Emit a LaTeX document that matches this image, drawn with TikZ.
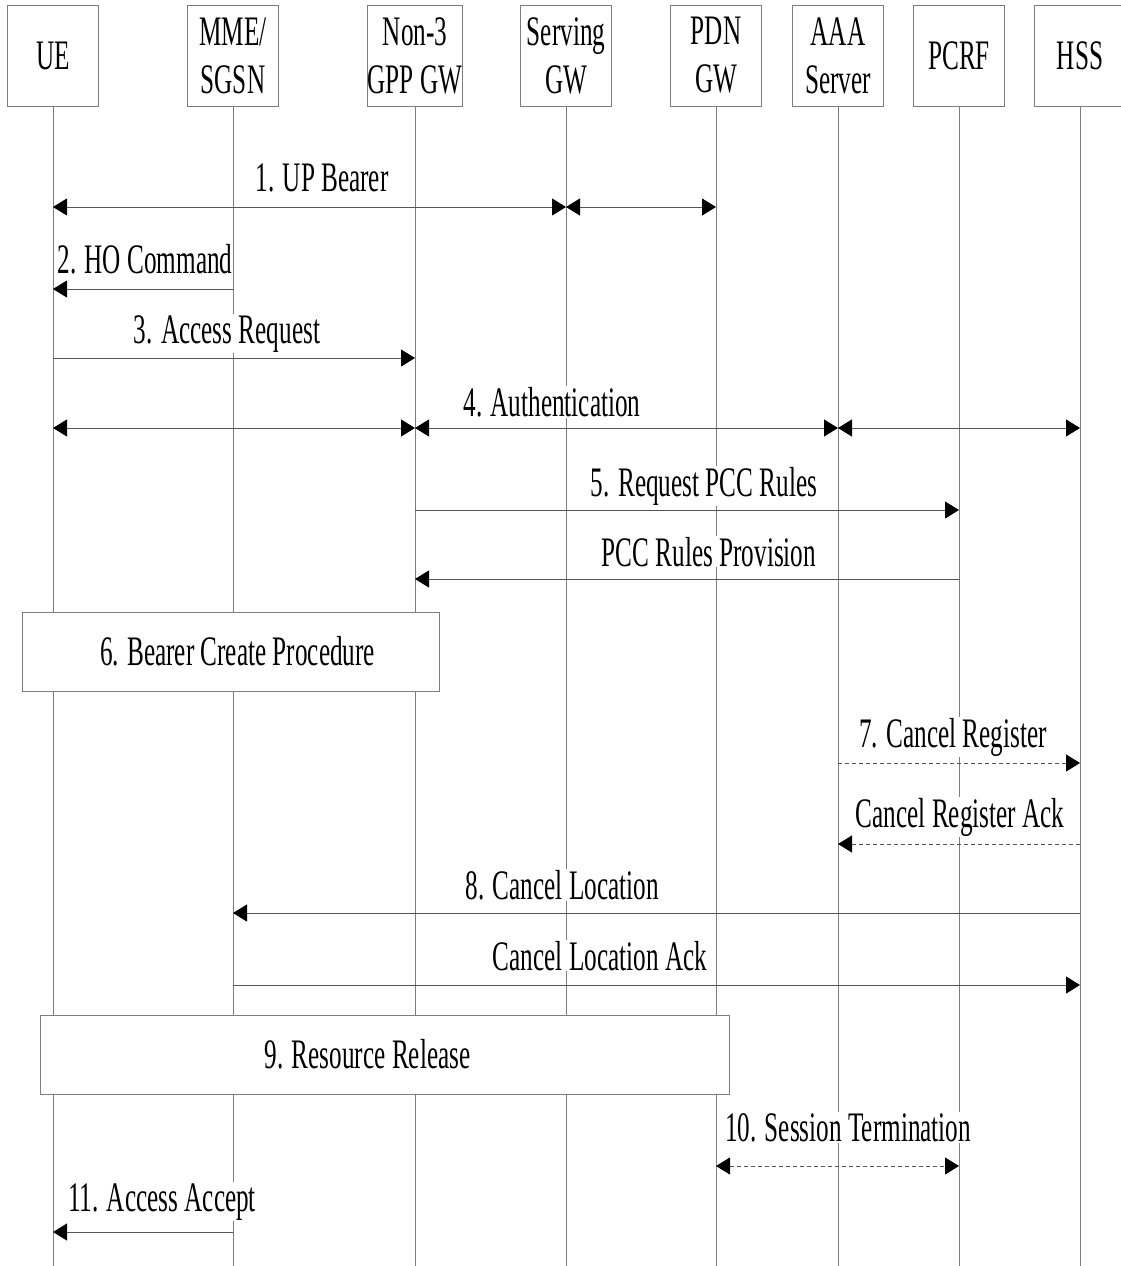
\documentclass[tikz,border=0pt]{standalone}
\usepackage{fontspec}
\setmainfont{Liberation Serif}[FakeStretch=0.6]
\usetikzlibrary{arrows.meta}

\definecolor{lifegray}{RGB}{125,125,125}
\definecolor{msggray}{RGB}{85,85,85}

\tikzset{
  entity/.style={draw=lifegray, fill=white, line width=0.9pt, minimum width=91pt,
    minimum height=101pt, align=center, inner sep=0pt},
  proc/.style={draw=lifegray, fill=white, line width=0.9pt, inner sep=0pt},
  life/.style={draw=lifegray, line width=0.9pt},
  msg/.style={draw=msggray, line width=0.9pt, -{Triangle[length=14pt, width=17pt, color=black]}},
  bimsg/.style={draw=msggray, line width=0.9pt,
    {Triangle[length=14pt, width=17pt, color=black]}-{Triangle[length=14pt, width=17pt, color=black]}},
  dmsg/.style={msg, dash pattern=on 4pt off 3pt},
  dbimsg/.style={bimsg, dash pattern=on 4pt off 3pt},
  lbl/.style={fill=white, anchor=base, inner sep=1pt}
}

\begin{document}
\begin{tikzpicture}[x=1pt, y=-1pt, font=\fontsize{42}{48}\selectfont]
\useasboundingbox (0,0) rectangle (1120,1266);

\def\xue{53}
\def\xmme{233}
\def\xngw{415}
\def\xsgw{566}
\def\xpgw{716}
\def\xaaa{838}
\def\xpcrf{959}
\def\xhss{1080}

\def\yh{55.5}
\def\yend{1266}

\def\yone{207}
\def\ytwo{289}
\def\ythree{358}
\def\yfour{428}
\def\yfive{510}
\def\yfiveb{579}
\def\yseven{763}
\def\ysevenb{844}
\def\yeight{913}
\def\yeightb{985}
\def\yten{1166}
\def\yeleven{1232}

\node[entity](ue) at (\xue, \yh) {UE};
\node[entity](mme) at (\xmme, \yh) {MME/\\SGSN};
\node[entity](ngw) at (\xngw, \yh) {Non-3\\GPP GW};
\node[entity](sgw) at (\xsgw, \yh) {Serving\\GW};
\node[entity](pgw) at (\xpgw, \yh) {PDN\\GW};
\node[entity](aaa) at (\xaaa, \yh) {AAA\\Server};
\node[entity](pcrf) at (\xpcrf, \yh) {PCRF};
\node[entity](hss) at (\xhss, \yh) {HSS};

\foreach \n/\x in {ue/\xue, mme/\xmme, ngw/\xngw, sgw/\xsgw, pgw/\xpgw, aaa/\xaaa, pcrf/\xpcrf, hss/\xhss} {
  \coordinate(\n end) at (\x, \yend);
  \draw[life] (\n.south) -- (\n end);
}

\coordinate(ue1) at (\xue, \yone);
\coordinate(sgw1) at (\xsgw, \yone);
\coordinate(pgw1) at (\xpgw, \yone);
\coordinate(ue2) at (\xue, \ytwo);
\coordinate(mme2) at (\xmme, \ytwo);
\coordinate(ue3) at (\xue, \ythree);
\coordinate(ngw3) at (\xngw, \ythree);
\coordinate(ue4) at (\xue, \yfour);
\coordinate(ngw4) at (\xngw, \yfour);
\coordinate(aaa4) at (\xaaa, \yfour);
\coordinate(hss4) at (\xhss, \yfour);
\coordinate(ngw5) at (\xngw, \yfive);
\coordinate(pcrf5) at (\xpcrf, \yfive);
\coordinate(ngw5b) at (\xngw, \yfiveb);
\coordinate(pcrf5b) at (\xpcrf, \yfiveb);
\coordinate(aaa7) at (\xaaa, \yseven);
\coordinate(hss7) at (\xhss, \yseven);
\coordinate(aaa7b) at (\xaaa, \ysevenb);
\coordinate(hss7b) at (\xhss, \ysevenb);
\coordinate(mme8) at (\xmme, \yeight);
\coordinate(hss8) at (\xhss, \yeight);
\coordinate(mme8b) at (\xmme, \yeightb);
\coordinate(hss8b) at (\xhss, \yeightb);
\coordinate(pgw10) at (\xpgw, \yten);
\coordinate(pcrf10) at (\xpcrf, \yten);
\coordinate(ue11) at (\xue, \yeleven);
\coordinate(mme11) at (\xmme, \yeleven);

\node[lbl](l1) at (322, 191) {1. UP Bearer};
\node[lbl](l2) at (145, 273) {2. HO Command};
\node[lbl](l3) at (227, 343) {3. Access Request};
\node[lbl](l4) at (552, 416) {4. Authentication};
\node[lbl](l5) at (704, 496) {5. Request PCC Rules};
\node[lbl](l5b) at (709, 566) {PCC Rules Provision};
\node[lbl](l7) at (953, 747) {7. Cancel Register};
\node[lbl](l7b) at (960, 827) {Cancel Register Ack};
\node[lbl](l8) at (562, 899) {8. Cancel Location};
\node[lbl](l8b) at (600, 970) {Cancel Location Ack};
\node[lbl](l10) at (848, 1141) {10. Session Termination};
\node[lbl](l11) at (162, 1211) {11. Access Accept};

\draw[bimsg] (ue1) -- (sgw1);
\draw[bimsg] (sgw1) -- (pgw1);
\draw[msg] (mme2) -- (ue2);
\draw[msg] (ue3) -- (ngw3);
\draw[bimsg] (ue4) -- (ngw4);
\draw[bimsg] (ngw4) -- (aaa4);
\draw[bimsg] (aaa4) -- (hss4);
\draw[msg] (ngw5) -- (pcrf5);
\draw[msg] (pcrf5b) -- (ngw5b);

\node[proc, minimum width=417pt, minimum height=79pt,
  label={[xshift=7pt]center:6. Bearer Create Procedure}](bcp) at (230.5, 651.5) {};

\draw[dmsg] (aaa7) -- (hss7);
\draw[dmsg] (hss7b) -- (aaa7b);
\draw[msg] (hss8) -- (mme8);
\draw[msg] (mme8b) -- (hss8b);

\node[proc, minimum width=689pt, minimum height=79pt,
  label={[xshift=-17pt]center:9. Resource Release}](rr) at (384.5, 1054.5) {};

\draw[dbimsg] (pgw10) -- (pcrf10);
\draw[msg] (mme11) -- (ue11);

\end{tikzpicture}
\end{document}
